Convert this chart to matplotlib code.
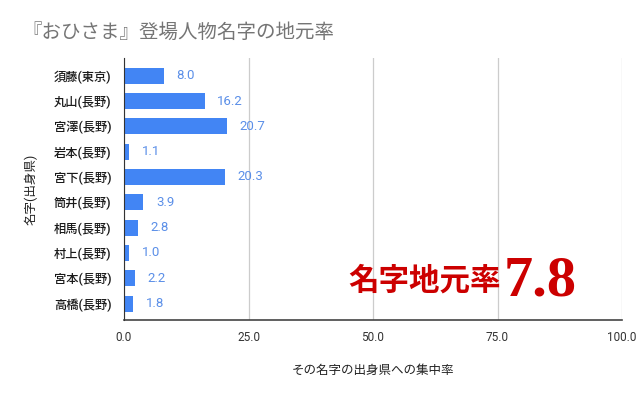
import matplotlib
matplotlib.use("Agg")
import matplotlib.pyplot as plt

# data (top to bottom)
names = ["須藤(東京)", "丸山(長野)", "宮澤(長野)", "岩本(長野)", "宮下(長野)",
         "筒井(長野)", "相馬(長野)", "村上(長野)", "宮本(長野)", "高橋(長野)"]
rates = [8.0, 16.2, 20.7, 1.1, 20.3, 3.9, 2.8, 1.0, 2.2, 1.8]
xticks = [0, 25, 50, 75, 100]
overall = 7.8

plt.rcParams['font.family'] = ['Roboto', 'Noto Sans CJK JP', 'DejaVu Sans']

fig = plt.figure(figsize=(6.4, 3.96), dpi=100)
ax = fig.add_axes([124 / 640, 1 - 320 / 396, 498 / 640, 262 / 396])

ypos = list(range(len(names)))
ax.barh(ypos, rates, height=0.63, color='#4285f4', zorder=3)
for y, v in zip(ypos, rates):
    ax.annotate(f"{v:.1f}", (v, y), xytext=(9, 0), textcoords='offset points',
                va='center', ha='left', fontsize=9.5, color='#5b8fe8')

ax.set_xlim(0, 100)
ax.set_ylim(len(names) - 0.35, -0.7)
ax.set_yticks(ypos)
ax.set_yticklabels(names, fontsize=8.8, color='#1a1a1a', fontweight='medium')
ax.set_xticks(xticks)
ax.set_xticklabels([f"{t:.1f}" for t in xticks], fontsize=8.5, color='#333333')
ax.tick_params(length=0, pad=8)
ax.tick_params(axis='y', pad=9)
ax.grid(axis='x', color='#cccccc', linewidth=0.9, zorder=0)

for s in ['top', 'right']:
    ax.spines[s].set_visible(False)
ax.spines['left'].set_color('#333333')
ax.spines['left'].set_zorder(4)
ax.spines['bottom'].set_color('#444444')
ax.spines['bottom'].set_linewidth(1.2)

ax.set_xlabel("その名字の出身県への集中率", fontsize=9, color='#222222', labelpad=14)
ax.set_ylabel("名字(出身県)", fontsize=9, color='#222222', labelpad=12)

fig.text(22 / 640, 1 - 32 / 396, "『おひさま』登場人物名字の地元率", fontsize=14,
         color='#757575', va='center', ha='left')

# big red annotation
fig.text(501 / 640, 1 - 281 / 396, "名字地元率", fontsize=22, fontweight='bold',
         color='#cc0000', va='center', ha='right', family=['Noto Sans CJK JP'])
fig.text(504 / 640, 1 - 295 / 396, f"{overall}", fontsize=42, fontweight='bold',
         color='#cc0000', va='baseline', ha='left', family=['Liberation Serif'])

fig.savefig("out.png", dpi=100)
